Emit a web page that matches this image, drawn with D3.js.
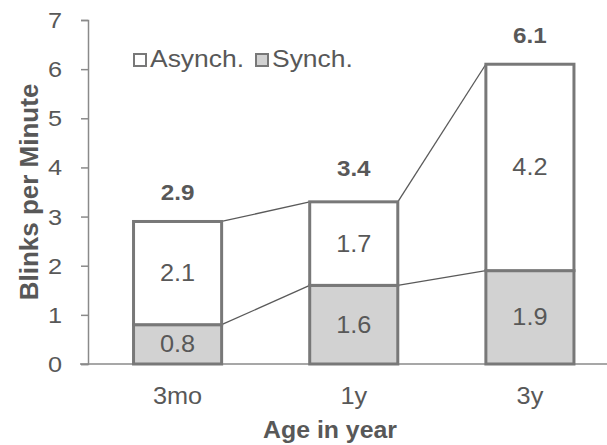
<!DOCTYPE html>
<html>
<head>
<meta charset="utf-8">
<script src="https://cdn.jsdelivr.net/npm/d3@7"></script>
<style>
  html, body { margin: 0; padding: 0; background: #fff; }
  svg { display: block; font-family: "Liberation Sans", Arial, sans-serif; }
</style>
</head>
<body>
<svg id="chart" width="607" height="445"></svg>
<script>
// Blink rate by age, split into synchronous and asynchronous blinks
const ages = ["3mo", "1y", "3y"];
const synch = [0.8, 1.6, 1.9];
const asynch = [2.1, 1.7, 4.2];
const totals = [2.9, 3.4, 6.1];
const yTicks = [0, 1, 2, 3, 4, 5, 6, 7];
const seriesNames = ["Asynch.", "Synch."];

const svg = d3.select("#chart");
const textColor = "#585858";
const axisColor = "#8a8a8a";
const barStroke = "#787878";
const synchFill = "#d2d2d2";

const x = d3.scaleBand().domain(ages).range([89.5, 618]).paddingInner(0.5).paddingOuter(0.25);
const y = d3.scaleLinear().domain([0, 7]).range([364, 20]);

// text helper: slightly widened glyphs
function label(g, px, py, str, size, opts = {}) {
  return g.append("text")
    .attr("transform", `translate(${px},${py}) scale(${opts.sx || 1.1},1)`)
    .attr("text-anchor", opts.anchor || "middle")
    .attr("font-size", size)
    .attr("font-weight", opts.bold ? "bold" : "normal")
    .attr("fill", textColor)
    .text(str);
}

// y axis (line + ticks)
const yAxis = svg.append("g").attr("transform", "translate(88,0)")
  .call(d3.axisLeft(y).tickValues(yTicks).tickSize(7).tickFormat(""));
yAxis.select(".domain").attr("stroke", axisColor).attr("stroke-width", 1.5);
yAxis.selectAll(".tick line").attr("stroke", axisColor).attr("stroke-width", 1.5);

// y tick labels
const yLab = svg.append("g");
yTicks.forEach(t => label(yLab, 62, y(t) + 8, d3.format("d")(t), 22, { anchor: "end", sx: 1.15 }));

// x baseline
svg.append("line").attr("x1", 80).attr("x2", 607).attr("y1", y(0)).attr("y2", y(0))
  .attr("stroke", axisColor).attr("stroke-width", 1.5);

// x tick labels
const xLab = svg.append("g");
ages.forEach(a => label(xLab, x(a) + x.bandwidth() / 2, 404, a, 23, { sx: 1.1 }));

// connector lines between neighbouring bars
const tops = ages.map((a, i) => synch[i] + asynch[i]);
const conn = svg.append("g").attr("stroke", "#5a5a5a").attr("stroke-width", 1.3).attr("fill", "none");
for (let i = 0; i < ages.length - 1; i++) {
  const x1 = x(ages[i]) + x.bandwidth(), x2 = x(ages[i + 1]);
  conn.append("line").attr("x1", x1).attr("x2", x2).attr("y1", y(tops[i])).attr("y2", y(tops[i + 1]));
  conn.append("line").attr("x1", x1).attr("x2", x2).attr("y1", y(synch[i])).attr("y2", y(synch[i + 1]));
}

// stacked bars
const bars = svg.append("g");
ages.forEach((a, i) => {
  const bx = x(a), bw = x.bandwidth();
  bars.append("rect").attr("x", bx).attr("width", bw)
    .attr("y", y(synch[i])).attr("height", y(0) - y(synch[i]))
    .attr("fill", synchFill).attr("stroke", barStroke).attr("stroke-width", 3);
  bars.append("rect").attr("x", bx).attr("width", bw)
    .attr("y", y(synch[i] + asynch[i])).attr("height", y(synch[i]) - y(synch[i] + asynch[i]))
    .attr("fill", "#fff").attr("stroke", barStroke).attr("stroke-width", 3);
  const cx = bx + bw / 2;
  label(bars, cx, (y(0) + y(synch[i])) / 2 + 8, synch[i].toFixed(1), 23);
  label(bars, cx, (y(synch[i]) + y(synch[i] + asynch[i])) / 2 + 8, asynch[i].toFixed(1), 23);
  label(bars, cx, y(totals[i]) - 21, totals[i].toFixed(1), 22, { bold: true, sx: 1.1 });
});

// legend
const legend = svg.append("g");
const legendX = [133, 255];
const legendFill = ["#fff", synchFill];
seriesNames.forEach((n, i) => {
  legend.append("rect").attr("x", legendX[i] + 1).attr("y", 54).attr("width", 12).attr("height", 12)
    .attr("fill", legendFill[i]).attr("stroke", barStroke).attr("stroke-width", 2);
  label(legend, legendX[i] + 17, 67, n, 23, { anchor: "start", sx: 1.15 });
});

// axis titles
svg.append("text").attr("transform", "translate(38,192) rotate(-90)")
  .attr("text-anchor", "middle").attr("fill", textColor).attr("font-size", 26)
  .attr("font-weight", "bold").text("Blinks per Minute");
label(svg, 330, 438, "Age in year", 23, { bold: true, sx: 1.08 });
</script>
</body>
</html>
